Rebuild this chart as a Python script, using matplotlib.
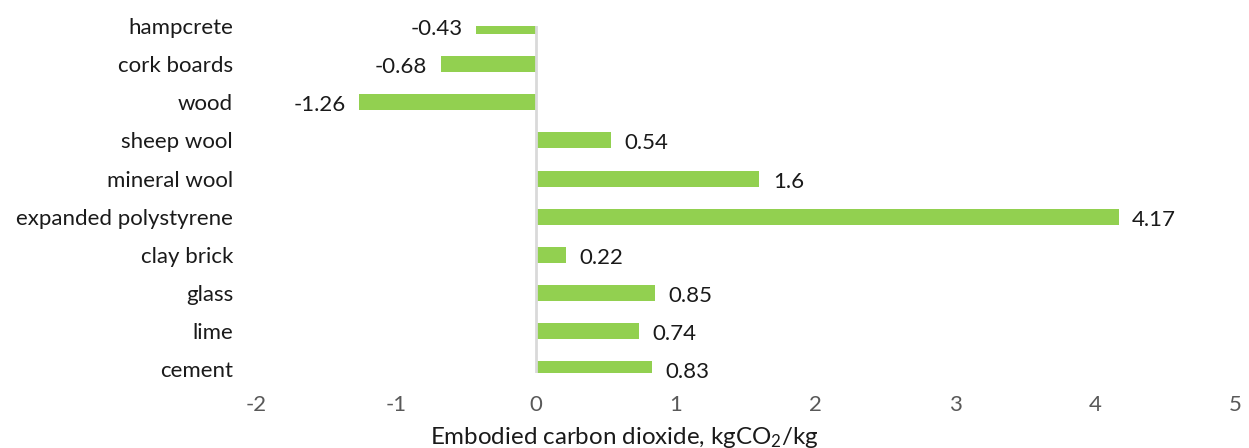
"""Embodied carbon dioxide of building materials, horizontal bar chart."""

import matplotlib

matplotlib.use("Agg")
import matplotlib.pyplot as plt

materials = ["hampcrete", "cork boards", "wood", "sheep wool", "mineral wool",
             "expanded polystyrene", "clay brick", "glass", "lime", "cement"]
values = [-0.43, -0.68, -1.26, 0.54, 1.6, 4.17, 0.22, 0.85, 0.74, 0.83]
value_labels = ["-0.43", "-0.68", "-1.26", "0.54", "1.6", "4.17", "0.22", "0.85", "0.74", "0.83"]
x_ticks = [-2, -1, 0, 1, 2, 3, 4, 5]

plt.rcParams["font.family"] = ["Lato", "DejaVu Sans"]
plt.rcParams["mathtext.default"] = "regular"

W, H = 1249, 448
fig = plt.figure(figsize=(W / 100, H / 100), dpi=100)
ax = fig.add_axes([256 / W, 1 - 373 / H, (1235 - 256) / W, (373 - 26) / H])

n = len(materials)
ypos = [n - 1 - i for i in range(n)]
ax.barh(ypos, values, height=0.42, color="#92D050", zorder=2)
ax.axvline(0, color="#d9d9d9", lw=2, zorder=3)

for y, v, lab in zip(ypos, values, value_labels):
    dx = 0.095 if v >= 0 else -0.095
    ax.text(v + dx, y - 0.08, lab, ha="left" if v >= 0 else "right", va="center",
            fontsize=16, color="#1a1a1a")

ax.set_xlim(-2, 5)
ax.set_ylim(-0.1, n - 1)
ax.set_xticks(x_ticks)
ax.set_xticklabels([str(t) for t in x_ticks], fontsize=16, color="#595959")
ax.set_yticks(ypos)
ax.set_yticklabels(materials, fontsize=16, color="#1a1a1a")
ax.tick_params(axis="y", length=0, pad=16.5)
ax.tick_params(axis="x", length=0, pad=16)
for s in ax.spines.values():
    s.set_visible(False)

fig.text(0.5, 1 - 437 / H, "Embodied carbon dioxide, kgCO$_2$/kg", ha="center", va="center",
         fontsize=17.4, color="#1a1a1a")

fig.savefig("out.png", dpi=100)
plt.close(fig)
